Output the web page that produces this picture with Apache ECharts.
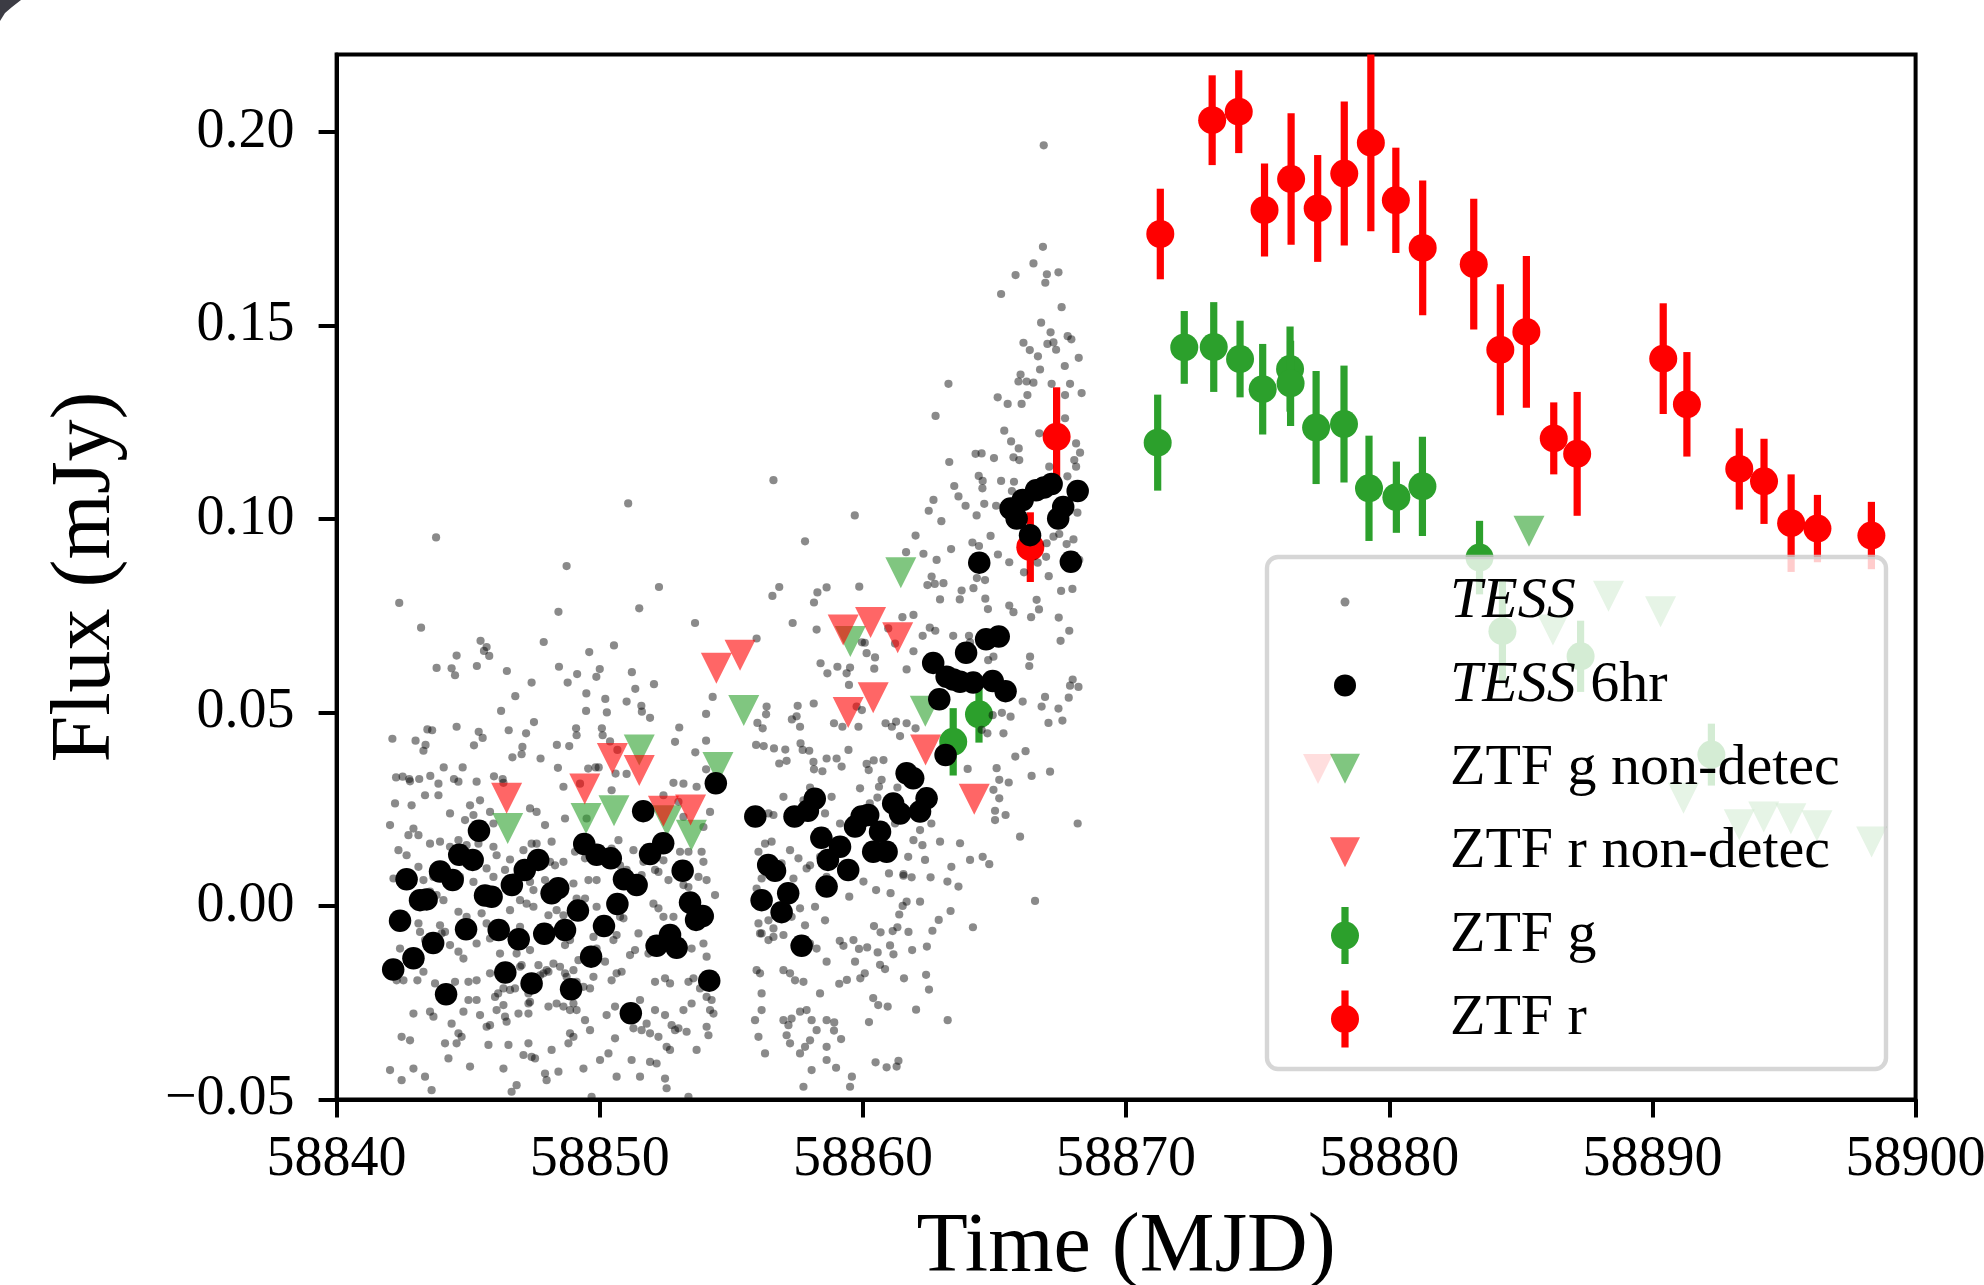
<!DOCTYPE html>
<html>
<head>
<meta charset="utf-8">
<script src="https://cdn.jsdelivr.net/npm/echarts@6/dist/echarts.min.js"></script>
<style>
html,body{margin:0;padding:0;background:#fff;}
#chart{width:1984px;height:1285px;}
</style>
</head>
<body>
<div id="chart"></div>
<script>
// ---------------- data ----------------
const xTickValues = [58840, 58850, 58860, 58870, 58880, 58890, 58900];
const yTickValues = [-0.05, 0.00, 0.05, 0.10, 0.15, 0.20];
const legendNames = ['TESS', 'TESS 6hr', 'ZTF g non-detec', 'ZTF r non-detec', 'ZTF g', 'ZTF r'];

// TESS raw photometry [MJD, flux mJy]
const tessPoints = [
[58842.79,0.0322],[58843.87,0.0316],[58844.63,0.0321],[58845.32,0.0321],[58846.34,0.0318],[58848.62,0.0308],[58849.25,0.0316],[58850.45,0.0299],[58852.42,0.0286],[58852.80,0.0318],[58853.18,0.0316],[58853.68,0.0308],[58854.44,0.0321],[58857.99,0.0306],[58856.98,0.0282],[58842.22,0.0265],[58842.85,0.026],[58843.36,0.0286],[58843.87,0.0286],[58845.07,0.026],[58845.45,0.0273],[58852.99,0.0269],
[58845.20,0.0235],[58844.31,0.0239],[58844.88,0.0222],[58845.83,0.0243],[58847.35,0.0252],[58847.60,0.0243],[58848.68,0.0226],[58854.19,0.0243],[58856.60,0.0235],[58857.36,0.0243],[58857.74,0.0273],[58842.03,0.0209],[58842.92,0.02],[58845.96,0.0213],[58847.92,0.0209],[58849.50,0.0226],[58856.41,0.0239],[58858.56,0.0239],[58853.94,0.0204],[58853.18,0.023],
[58842.35,0.0144],[58842.66,0.0131],[58843.11,0.0183],[58842.73,0.0183],[58843.55,0.0161],[58843.93,0.0166],[58844.31,0.0153],[58844.63,0.017],[58844.94,0.0157],[58845.07,0.0131],[58845.39,0.0161],[58845.96,0.0153],[58846.08,0.0131],[58846.59,0.012],[58847.10,0.0144],[58847.41,0.0161],[58847.60,0.0161],[58848.17,0.0166],[58848.11,0.0114],[58848.62,0.0114],[58849.06,0.014],[58849.44,0.0123],[58850.45,0.0148],[58850.71,0.017],[58851.28,0.0144],[58851.66,0.0114],[58852.42,0.0118],[58853.05,0.014],[58853.37,0.014],[58853.87,0.014],[58853.94,0.0114],[58856.28,0.0161],[58856.53,0.0166],[58857.23,0.0144],[58857.55,0.0123],[58857.86,0.0097],[58858.37,0.0127],[58858.75,0.0114],[58856.03,0.014],[58856.34,0.0118],
[58842.16,0.0071],[58842.54,0.0067],[58843.11,0.0101],[58843.30,0.0067],[58843.68,0.0075],[58844.44,0.008],[58844.69,0.0075],[58845.20,0.0062],[58845.70,0.0097],[58845.96,0.0075],[58846.40,0.0093],[58846.78,0.0075],[58847.35,0.0062],[58847.48,0.0041],[58847.92,0.0067],[58848.30,0.0105],[58849.00,0.0058],[58849.57,0.0067],[58849.88,0.0067],[58850.77,0.0105],[58851.02,0.0093],[58851.59,0.008],[58852.10,0.0093],[58852.23,0.0088],[58852.61,0.0067],[58853.18,0.0054],[58853.37,0.0049],[58853.75,0.0075],[58854.06,0.0067],[58854.38,0.0028],[58855.96,0.0045],[58856.15,0.0071],[58857.36,0.0071],[58856.91,0.011],[58857.99,0.0105],[58858.62,0.0075],
[58842.98,0.0015],[58843.55,0.0037],[58843.80,0.0028],[58844.06,0.0015],[58845.51,-0.0019],[58845.70,-0.0045],[58846.59,-0.0011],[58846.97,0.0015],[58847.22,0.0006],[58847.48,-0.0002],[58848.05,-0.0024],[58848.36,-0.0011],[58848.62,-0.0024],[58849.12,0.0019],[58849.44,0.0019],[58849.88,-0.0002],[58850.77,-0.0028],[58850.90,-0.0032],[58851.47,-0.0071],[58852.04,0.0006],[58852.23,-0.0006],[58852.42,-0.0028],[58852.80,-0.0028],[58853.43,-0.0015],[58853.94,-0.0011],[58854.19,-0.0028],[58856.03,-0.0045],[58856.09,-0.0071],[58856.41,-0.0037],[58856.60,-0.0058],[58857.29,-0.0028],[58857.61,-0.0006],[58858.18,-0.0002],[58858.56,-0.0037],[58857.80,-0.005],[58843.11,-0.0045],[58843.93,-0.005],[58844.12,-0.0067],[58844.63,-0.0015],[58844.94,-0.0028],[58845.32,-0.0097],[58846.08,-0.0062],[58846.97,-0.0054],
[58842.41,-0.011],[58843.17,-0.0067],[58843.36,-0.0088],[58843.99,-0.0071],[58844.31,-0.0101],[58844.63,-0.0118],[58844.82,-0.0136],[58845.83,-0.0084],[58846.21,-0.0123],[58846.84,-0.0123],[58846.97,-0.0157],[58847.35,-0.0114],[58847.67,-0.0153],[58847.86,-0.0174],[58848.05,-0.017],[58848.68,-0.0101],[58848.87,-0.0088],[58849.19,-0.014],[58849.76,-0.008],[58849.88,-0.011],[58850.20,-0.0144],[58850.52,-0.0088],[58850.64,-0.0075],[58851.15,-0.0127],[58851.34,-0.0114],[58851.85,-0.0123],[58852.10,-0.0106],[58852.54,-0.0101],[58853.18,-0.0106],[58853.49,-0.011],[58853.94,-0.0097],[58854.06,-0.0131],[58856.15,-0.0071],[58856.41,-0.0088],[58856.60,-0.008],[58856.98,-0.0075],[58857.99,-0.0097],[58858.24,-0.011],[58858.62,-0.0144],
[58842.28,-0.0192],[58842.54,-0.0192],[58843.07,-0.0192],[58843.30,-0.017],[58843.74,-0.02],[58844.12,-0.0226],[58844.50,-0.0196],[58845.01,-0.0196],[58845.32,-0.0192],[58845.83,-0.0174],[58846.02,-0.0235],[58846.14,-0.0226],[58846.34,-0.0213],[58846.59,-0.0217],[58846.78,-0.0213],[58847.03,-0.0153],[58847.29,-0.0226],[58847.35,-0.0248],[58847.73,-0.0179],[58847.98,-0.0166],[58848.24,-0.0149],[58848.49,-0.0157],[58848.68,-0.0174],[58848.74,-0.0183],[58849.00,-0.0166],[58849.12,-0.0196],[58849.38,-0.0209],[58849.63,-0.0213],[58849.76,-0.0183],[58850.45,-0.0192],[58850.64,-0.0174],[58850.83,-0.017],[58852.10,-0.0196],[58852.48,-0.0187],[58852.67,-0.02],[58853.37,-0.0196],[58853.56,-0.0187],[58853.81,-0.0213],[58854.06,-0.0235],[58854.25,-0.0243],[58855.96,-0.0166],[58856.09,-0.0174],[58856.98,-0.0166],[58857.23,-0.0174],[58857.42,-0.0192],[58857.74,-0.0196],[58858.37,-0.0226],
[58842.92,-0.0278],[58843.55,-0.0273],[58843.68,-0.0286],[58844.37,-0.0304],[58844.63,-0.0329],[58844.82,-0.0273],[58845.01,-0.0243],[58845.32,-0.0243],[58845.45,-0.0282],[58845.70,-0.0312],[58845.83,-0.0308],[58846.08,-0.0269],[58846.34,-0.0256],[58846.40,-0.0286],[58846.46,-0.0299],[58846.91,-0.0278],[58847.29,-0.0252],[58847.29,-0.0278],[58848.05,-0.026],[58848.36,-0.0252],[58848.62,-0.026],[58848.87,-0.0269],[58849.00,-0.0252],[58849.12,-0.0269],[58849.44,-0.0295],[58849.63,-0.0321],[58850.26,-0.0282],[58850.58,-0.026],[58851.28,-0.0316],[58851.53,-0.0243],[58851.59,-0.0321],[58851.78,-0.0304],[58851.91,-0.0329],[58852.10,-0.0269],[58852.23,-0.0338],[58852.48,-0.0282],[58852.73,-0.0308],[58852.86,-0.0321],[58852.99,-0.0316],[58853.18,-0.0269],[58853.30,-0.0325],[58853.49,-0.0252],[58854.06,-0.0312],[58854.13,-0.0334],[58854.19,-0.0269],[58854.32,-0.0278],[58855.90,-0.0295],[58856.15,-0.0269],[58856.98,-0.0295],[58857.17,-0.0308],[58857.29,-0.0291],[58857.61,-0.0273],[58857.86,-0.0269],[58858.05,-0.0295],[58858.24,-0.0321],[58858.62,-0.0295],[58856.15,-0.0226],
[58842.47,-0.0338],[58842.79,-0.0347],[58844.12,-0.0355],[58844.56,-0.0355],[58844.75,-0.0338],[58845.77,-0.0359],[58846.53,-0.0359],[58847.10,-0.0385],[58847.29,-0.0355],[58847.41,-0.039],[58847.54,-0.0394],[58848.17,-0.0372],[58848.81,-0.0355],[58848.87,-0.0329],[58849.00,-0.0338],[58850.01,-0.0398],[58850.33,-0.0381],[58850.58,-0.0342],[58851.21,-0.0398],[58851.91,-0.0403],[58852.16,-0.0407],[58852.48,-0.0446],[58852.54,-0.0364],[58852.67,-0.0372],[58853.68,-0.0372],[58856.03,-0.0338],[58857.10,-0.0334],[58857.23,-0.0355],[58857.61,-0.0381],[58857.80,-0.0364],[58857.99,-0.0347],[58858.62,-0.0364],
[58842.03,-0.0424],[58842.47,-0.045],[58842.92,-0.042],[58843.36,-0.0441],[58843.61,-0.0476],[58844.25,-0.0394],[58845.07,-0.0415],[58846.34,-0.042],[58846.65,-0.048],[58846.84,-0.0463],[58847.92,-0.0433],[58847.98,-0.045],[58848.43,-0.0428],[58849.38,-0.042],[58849.69,-0.0493],[58850.64,-0.0441],[58851.53,-0.0441],[58852.54,-0.0471],[58853.37,-0.0493],[58856.28,-0.0381],[58857.74,-0.0467],[58858.05,-0.0424],[58858.62,-0.0398],
[58856.60,0.1100],[58851.08,0.1040],[58843.78,0.0952],[58848.74,0.0878],[58857.80,0.0942],[58842.38,0.0783],[58843.21,0.0719],[58848.43,0.076],[58851.50,0.0769],[58852.25,0.0824],[58853.62,0.0731],[58856.82,0.0824],[58856.56,0.0801],[58858.27,0.081],[58858.14,0.0784],[58858.62,0.0823],[58857.33,0.0731],[58858.24,0.0714],[58855.96,0.0691],[58847.87,0.0682],[58845.47,0.0685],[58845.70,0.0669],[58845.60,0.0659],[58845.80,0.0646],[58844.56,0.0647],[58843.80,0.0615],[58844.37,0.0614],[58844.50,0.0596],[58845.33,0.062],[58846.47,0.0607],[58847.41,0.0577],[58846.79,0.0542],[58846.25,0.0504],[58848.45,0.0618],[58848.78,0.0577],[58849.14,0.0599],[58849.60,0.0656],[58850.00,0.0612],[58849.87,0.0592],[58850.54,0.0673],[58851.22,0.0604],[58851.35,0.0561],[58852.06,0.0573],[58850.21,0.0535],[58849.49,0.0549],[58849.48,0.0504],[58850.27,0.05],[58851.02,0.0528],[58851.58,0.0517],[58851.60,0.0502],[58851.91,0.0486],[58854.04,0.0496],[58854.29,0.054],[58853.02,0.0461],[58852.86,0.0424],[58853.63,0.0397],[58856.34,0.0515],[58856.32,0.0495],[58855.99,0.0473],[58856.19,0.0459],[58857.52,0.0517],[58857.48,0.049],[58857.30,0.0482],[58857.61,0.0463],[58858.13,0.0523],[58858.39,0.0627],[58858.65,0.0601],[58855.94,0.0416],[58856.23,0.0413],[58856.62,0.0407],[58857.05,0.0404],[58857.63,0.042],[58857.71,0.0403],[58857.96,0.0401],[58858.12,0.0372],[58858.62,0.0381],[58856.82,0.0368],[58857.10,0.0375],[58858.14,0.0353],[58858.46,0.0348],
[58842.12,0.0432],[58843.00,0.0427],[58843.38,0.0416],[58843.30,0.0401],[58843.45,0.0456],[58843.63,0.0454],[58844.56,0.0463],[58845.40,0.045],[58845.55,0.0434],[58845.22,0.0415],[58846.54,0.0454],[58847.20,0.0446],[58847.50,0.0475],[58847.06,0.0411],[58847.03,0.0392],[58846.68,0.0384],[58847.75,0.0381],[58848.37,0.0416],[58848.84,0.0413],[58849.10,0.0459],[58849.12,0.0441],[58850.08,0.0459],[58850.11,0.0441],[58850.39,0.0425],[58850.67,0.0403],[58850.60,0.0342],[58851.02,0.0341],[58854.04,0.0427],[58842.26,0.0332],[58842.51,0.0334],[58842.76,0.0328],[58843.14,0.0328],[58843.56,0.0336],[58844.07,0.0358],[58844.46,0.0328],[58844.79,0.0358],[58845.98,0.0335],[58846.31,0.0328],[58848.41,0.0357],[58849.56,0.0355],[58849.84,0.0358],[58849.96,0.0358],[58854.04,0.0353],
[58863.25,0.1349],[58865.91,0.1355],[58866.22,0.1355],[58866.48,0.1352],[58867.17,0.1349],[58867.87,0.1349],[58868.31,0.1325],[58867.68,0.132],[58866.25,0.132],[58866.03,0.1297],[58865.50,0.1297],[58865.12,0.1314],[58862.76,0.1266],[58866.70,0.1221],[58865.37,0.1228],[58865.63,0.12],[58865.92,0.1182],[58865.72,0.1159],[58865.94,0.1152],[58864.98,0.1157],[58864.28,0.1168],[58864.51,0.1169],[58868.10,0.1195],[58868.25,0.1171],[58868.03,0.1152],[58868.10,0.1135],[58867.08,0.1135],[58867.77,0.111],[58867.68,0.126],[58863.28,0.1147],[58863.63,0.1058],[58863.47,0.1085],[58864.40,0.1111],[58864.55,0.1098],[58864.54,0.1079],[58865.25,0.1098],[58865.74,0.1096],[58865.66,0.1072],[58868.15,0.1016],[58863.90,0.1034],[58864.61,0.1039],[58865.06,0.1034],[58864.32,0.1009],[58862.68,0.1049],[58862.50,0.1021],[58862.98,0.0994],[58859.69,0.1009],
[58862.00,0.0957],[58862.30,0.091],[58861.64,0.0914],[58862.80,0.0894],[58863.35,0.0922],[58864.16,0.0939],[58864.41,0.093],[58864.85,0.0956],[58865.13,0.0908],[58865.56,0.0888],[58866.64,0.0887],[58866.96,0.0902],[58867.24,0.0954],[58867.46,0.0961],[58867.74,0.0935],[58868.00,0.0947],[58868.22,0.0894],[58866.98,0.0937],[58866.12,0.0862],[58867.06,0.0852],[58867.53,0.0814],[58867.96,0.0819],[58866.60,0.0791],[58866.69,0.0766],[58866.39,0.0746],[58867.44,0.0745],[58867.84,0.0711],[58867.51,0.0685],[58865.56,0.0776],[58865.72,0.0759],[58864.75,0.0767],[58864.65,0.0794],[58864.20,0.0821],[58864.33,0.0847],[58864.64,0.0842],[58863.75,0.0815],[58862.93,0.0792],[58863.68,0.0792],[58862.61,0.0851],[58862.45,0.0829],[58862.73,0.0832],[58863.06,0.0834],[58861.92,0.0752],[58862.27,0.0698],[58862.54,0.0719],[58862.75,0.0711],[58861.50,0.0746],[58861.66,0.0611],[58861.92,0.0658],[58863.43,0.0698],[58864.03,0.0698],[58864.07,0.0681],[58864.76,0.0635],[58864.96,0.0644],[58866.35,0.0644],[58866.32,0.062],
[58867.97,0.0585],[58868.19,0.0566],[58867.87,0.0569],[58867.82,0.0538],[58866.92,0.054],[58866.79,0.0515],[58867.43,0.051],[58867.58,0.0479],[58867.05,0.0473],[58866.18,0.04],[58865.79,0.0386],[58866.41,0.0336],[58867.11,0.0347],[58865.97,0.0179],[58868.16,0.0213],[58865.61,0.0489],[58865.28,0.0499],[58865.34,0.0446],[58866.07,0.0528],[58864.93,0.0493],[58864.73,0.0446],[58864.51,0.0455],[58863.98,0.0354],[58865.08,0.0356],[58865.18,0.0326],[58865.54,0.0319],[58864.96,0.03],[58865.18,0.0278],[58865.42,0.0235],[58865.02,0.0222],[58865.02,0.0246],[58864.07,0.0119],[58864.55,0.0127],[58864.80,0.0108],[58863.69,0.0162],[58863.36,0.0101],[58862.93,0.0166],[58862.60,0.0213],[58862.17,0.0196],[58862.26,0.0157],[58862.36,0.0119],[58861.92,0.017],[58861.72,0.0127],[58861.54,0.0082],[58860.99,0.0084],[58861.22,0.0248],[58860.71,0.0326],[58861.31,0.0306],[58860.78,0.0377],[58860.41,0.0376],[58860.14,0.0367],[58860.22,0.0351],[58860.61,0.0308],[58859.89,0.0304],[58860.26,0.0265],[58860.55,0.028],[58858.81,0.0282],[58859.19,0.036],[58859.45,0.0403],[58859.00,0.0381],
[58859.83,0.0463],[58859.22,0.0463],[58858.90,0.0472],[58859.38,0.0601],[58859.03,0.0618],[58859.47,0.0571],[58859.51,0.0616],[58859.96,0.0681],[58860.07,0.068],[58860.43,0.0613],[58860.14,0.0653],[58860.46,0.0642],[58860.96,0.0717],[58861.22,0.0678],[58859.76,0.0515],[58859.96,0.0506],[58859.86,0.0825],[58861.26,0.0476],[58860.86,0.0472],[58861.10,0.0463],[58861.41,0.0439],[58861.66,0.0472],[58862.00,0.0459],[58861.22,0.0213],[58859.26,0.0166],[58859.13,0.0213],
[58860.02,0.0063],[58860.50,0.0041],[58861.05,0.0033],[58861.54,0.0078],[58861.85,0.0074],[58862.57,0.0074],[58863.21,0.0063],[58863.63,0.005],[58866.54,0.0013],[58859.48,0.0024],[58861.66,0.0011],[58861.51,0.0000],[58862.17,0.0011],[58861.38,-0.0022],[58863.33,-0.0013],[58862.88,-0.0036],[58862.64,-0.0064],[58864.18,-0.0055],[58860.42,-0.0052],[58860.67,-0.0068],[58861.13,-0.0065],[58861.31,-0.0055],[58861.73,-0.0067],[58859.12,-0.009],[58859.26,-0.0103],[58859.64,-0.0088],[58859.85,-0.0111],[58860.16,-0.0107],[58860.56,-0.012],[58861.03,-0.0102],[58861.16,-0.0125],[58861.87,-0.0114],[58862.43,-0.0105],[58859.70,-0.0144],[58860.65,-0.0152],[58860.84,-0.0163],[58860.07,-0.0174],[58859.90,-0.0187],[58859.39,-0.0191],[58859.10,-0.0201],[58861.56,-0.0187],[58862.40,-0.0178],[58862.51,-0.0216],[58860.39,-0.0238],[58860.58,-0.0256],[58860.94,-0.026],[58862.02,-0.0268],[58863.22,-0.0295],[58860.23,-0.03],[58858.91,-0.0301],[58858.90,-0.0322],[58859.17,-0.0344],[58858.98,-0.0418],[58859.58,-0.0441],[58859.51,-0.0467],[58860.48,-0.0404],[58860.90,-0.0417],[58861.28,-0.0415],[58861.35,-0.04],
[58866.87,0.1965],[58866.84,0.1703],[58866.48,0.166],[58865.80,0.163],[58866.99,0.1632],[58867.43,0.1637],[58866.93,0.161],[58865.25,0.1581],[58867.55,0.1547],[58866.77,0.1507],[58867.13,0.1482],[58867.78,0.1472],[58867.92,0.1464],[58866.10,0.1455],[58867.01,0.1452],[58867.24,0.1456],[58866.34,0.1436],[58867.34,0.1437],[58866.65,0.142],[58868.20,0.1416],[58867.67,0.1395],[58866.73,0.1386],[58865.99,0.1373]
];

// TESS 6-hour binned [MJD, flux]
const tess6hrPoints = [
[58842.15,-0.0164],[58842.41,-0.0038],[58842.66,0.0069],[58842.92,-0.0135],[58843.17,0.0015],[58843.42,0.0017],[58843.67,-0.0096],[58843.93,0.0089],[58844.16,-0.0228],[58844.41,0.0067],[58844.66,0.0132],[58844.92,-0.006],[58845.17,0.0119],[58845.41,0.0194],[58845.64,0.0027],[58845.89,0.0024],[58846.16,-0.0062],[58846.41,-0.0172],[58846.66,0.0054],[58846.92,-0.0086],[58847.15,0.0093],[58847.41,-0.02],[58847.66,0.0119],[58847.89,-0.0072],[58848.17,0.0033],[58848.42,0.0046],[58848.68,-0.0062],[58848.91,-0.0215],[58849.17,-0.0012],[58849.41,0.016],[58849.67,-0.0131],[58849.88,0.0132],[58850.16,-0.0052],[58850.42,0.0123],[58850.67,0.0005],[58850.92,0.0069],[58851.18,-0.0277],[58851.40,0.0054],[58851.65,0.0245],[58851.91,0.0134],[58852.16,-0.0103],[58852.41,0.0162],[58852.67,-0.0075],[58852.92,-0.0108],[58853.15,0.0091],[58853.43,0.0009],[58853.66,-0.0036],[58853.91,-0.0026],[58854.16,-0.0193],[58854.41,0.0317],
[58855.91,0.0231],[58856.15,0.0015],[58856.40,0.0106],[58856.66,0.0091],[58856.91,-0.0016],[58857.16,0.0033],[58857.40,0.0231],[58857.67,-0.0103],[58857.91,0.0246],[58858.17,0.0277],[58858.42,0.0176],[58858.67,0.0119],[58858.62,0.005],[58859.13,0.0153],[58859.44,0.0093],[58859.70,0.0205],[58859.95,0.0231],[58860.20,0.0235],[58860.39,0.014],[58860.65,0.0192],[58860.90,0.014],[58861.15,0.0265],[58861.41,0.0239],[58861.66,0.0343],[58861.91,0.033],[58862.17,0.0244],[58862.42,0.0278],[58862.67,0.0628],[58862.90,0.0534],[58863.14,0.039],[58863.18,0.0592],[58863.43,0.0585],[58863.69,0.0579],[58863.92,0.0654],[58864.19,0.0577],[58864.42,0.0887],[58864.68,0.0689],[58864.93,0.0581],[58865.16,0.0696],[58865.42,0.0555],[58865.61,0.1027],[58865.84,0.1001],[58866.07,0.1049],[58866.35,0.0958],[58866.58,0.1074],[58866.88,0.1081],[58867.17,0.109],[58867.42,0.1001],[58867.61,0.1031],[58867.90,0.0889],[58868.16,0.1072]
];

// ZTF upper limits [MJD, flux]
const ztfGNondet = [
[58846.50,0.0200],[58849.48,0.0226],[58850.54,0.0246],[58851.50,0.0403],[58852.55,0.0220],[58853.48,0.0183],[58854.49,0.0358],[58855.47,0.0505],[58859.52,0.0683],[58861.44,0.0861],[58862.37,0.0503],[58885.31,0.0968],[58886.22,0.0713],[58888.33,0.0800],[58890.31,0.0760],[58891.18,0.0278],[58893.30,0.0210],[58894.23,0.0230],[58895.26,0.0225],[58896.25,0.0207],[58898.33,0.0165]
];
const ztfRNondet = [
[58846.46,0.0278],[58849.43,0.0302],[58850.48,0.0381],[58851.50,0.0350],[58852.42,0.0245],[58853.45,0.0248],[58854.43,0.0614],[58855.33,0.0648],[58859.25,0.0713],[58860.29,0.0732],[58861.32,0.0693],[58860.39,0.0538],[58859.44,0.0500],[58862.38,0.0403],[58864.23,0.0276]
];

// ZTF detections [MJD, flux, 1-sigma error]
const ztfG = [
[58863.43,0.0424,0.0087],[58864.41,0.0495,0.0073],[58871.20,0.1197,0.0124],[58872.21,0.1443,0.0094],[58873.33,0.1444,0.0116],[58874.33,0.1413,0.0099],[58875.19,0.1335,0.0117],[58876.23,0.1387,0.0110],[58876.25,0.1350,0.0110],[58877.22,0.1236,0.0146],[58878.28,0.1245,0.0151],[58879.23,0.1079,0.0136],[58880.27,0.1056,0.0092],[58881.26,0.1084,0.0128],[58883.43,0.0900,0.0095],[58884.30,0.0710,0.0135],[58887.27,0.0645,0.0092],[58892.24,0.0391,0.0080]
];
const ztfR = [
[58866.36,0.0927,0.0090],[58867.36,0.1212,0.0128],[58871.30,0.1736,0.0117],[58873.27,0.2030,0.0116],[58874.28,0.2052,0.0107],[58875.26,0.1798,0.0120],[58876.27,0.1878,0.0170],[58877.28,0.1802,0.0138],[58878.29,0.1892,0.0186],[58879.30,0.1972,0.0229],[58880.25,0.1823,0.0136],[58881.27,0.1700,0.0174],[58883.21,0.1658,0.0169],[58884.22,0.1437,0.0169],[58885.21,0.1483,0.0196],[58886.25,0.1208,0.0093],[58887.14,0.1168,0.0160],[58890.41,0.1414,0.0143],[58891.31,0.1296,0.0135],[58893.30,0.1129,0.0105],[58894.24,0.1097,0.0110],[58895.27,0.0989,0.0126],[58896.27,0.0975,0.0087],[58898.32,0.0957,0.0087]
];

// ---------------- chart ----------------
const X_MIN = 58840, X_MAX = 58900, Y_MIN = -0.05, Y_MAX = 0.22;
const FONT = "'Liberation Serif', 'Times New Roman', serif";
const GREEN = '#2ca02c', RED = '#ff0000';

function errorBarRenderer(color) {
  return function (params, api) {
    const x = api.value(0), y = api.value(1), e = api.value(2);
    const c = api.coord([x, y]);
    const t = api.coord([x, Math.min(y + e, Y_MAX)]);
    const b = api.coord([x, Math.max(y - e, Y_MIN)]);
    return {
      type: 'group',
      children: [
        { type: 'rect', shape: { x: c[0] - 3.6, y: t[1], width: 7.2, height: b[1] - t[1] }, style: { fill: color } },
        { type: 'circle', shape: { cx: c[0], cy: c[1], r: 14 }, style: { fill: color } }
      ]
    };
  };
}

const BOX = 'M0,0M100,60';
const icons = {
  'TESS': 'path://' + BOX + 'M45.5,30A4.5,4.5,0,1,1,54.5,30A4.5,4.5,0,1,1,45.5,30Z',
  'TESS 6hr': 'path://' + BOX + 'M39,30A11,11,0,1,1,61,30A11,11,0,1,1,39,30Z',
  'ZTF g non-detec': 'path://' + BOX + 'M35,15L65,15L50,45Z',
  'ZTF r non-detec': 'path://' + BOX + 'M35,15L65,15L50,45Z',
  'ZTF g': 'path://' + BOX + 'M46.4,1.5L53.6,1.5L53.6,58.5L46.4,58.5Z M36,30A14,14,0,1,1,64,30A14,14,0,1,1,36,30Z',
  'ZTF r': 'path://' + BOX + 'M46.4,1.5L53.6,1.5L53.6,58.5L46.4,58.5Z M36,30A14,14,0,1,1,64,30A14,14,0,1,1,36,30Z'
};

const chart = echarts.init(document.getElementById('chart'), null, { renderer: 'canvas' });

const axisFont = { fontFamily: FONT, fontSize: 56, color: '#000' };

chart.setOption({
  animation: false,
  backgroundColor: '#fff',
  grid: { left: 336.6, right: 68.4, top: 54.4, bottom: 185.5, containLabel: false, outerBoundsMode: 'none',
          show: true, borderColor: '#000', borderWidth: 4, backgroundColor: 'transparent' },
  xAxis: {
    type: 'value', min: X_MIN, max: X_MAX, interval: 10,
    name: 'Time (MJD)', nameLocation: 'middle', nameGap: 107,
    nameTextStyle: { fontFamily: FONT, fontSize: 84, color: '#000' },
    axisLine: { show: true, onZero: false, lineStyle: { color: '#000', width: 4 } },
    axisTick: { show: true, inside: false, length: 18, lineStyle: { color: '#000', width: 4 } },
    axisLabel: Object.assign({ margin: 33, formatter: v => String(v) }, axisFont),
    splitLine: { show: false }
  },
  yAxis: {
    type: 'value', min: Y_MIN, max: Y_MAX, interval: 0.05,
    name: 'Flux (mJy)', nameLocation: 'middle', nameGap: 208, nameRotate: 90,
    nameTextStyle: { fontFamily: FONT, fontSize: 84, color: '#000' },
    axisLine: { show: true, onZero: false, lineStyle: { color: '#000', width: 4 } },
    axisTick: { show: true, inside: false, length: 18, lineStyle: { color: '#000', width: 4 }, customValues: yTickValues },
    axisLabel: Object.assign({
      margin: 42, customValues: yTickValues,
      formatter: v => (v < -1e-9 ? '\u2212' : '') + Math.abs(v).toFixed(2)
    }, axisFont),
    splitLine: { show: false }
  },
  legend: {
    orient: 'vertical', left: 1295, top: 572, padding: 0, z: 30,
    itemWidth: 100, itemHeight: 60, itemGap: 23.4,
    selectedMode: false,
    data: legendNames.map(n => ({ name: n, icon: icons[n] })),
    formatter: function (name) {
      if (name.indexOf('TESS') === 0) {
        const rest = name.slice(4);
        return '{pad| }{it|TESS}' + (rest ? '{n|' + rest + '}' : '');
      }
      return '{pad| }{n|' + name + '}';
    },
    textStyle: {
      fontFamily: FONT, fontSize: 58, color: '#000', lineHeight: 60,
      rich: {
        pad: { width: 50, lineHeight: 60 },
        it: { fontFamily: FONT, fontSize: 58, fontStyle: 'italic', color: '#000', lineHeight: 60 },
        n: { fontFamily: FONT, fontSize: 58, color: '#000', lineHeight: 60 }
      }
    }
  },
  graphic: [
    { type: 'rect', z: 20, silent: true,
      shape: { x: 1267, y: 557, width: 619, height: 512, r: 11 },
      style: { fill: 'rgba(255,255,255,0.8)', stroke: 'rgba(204,204,204,0.8)', lineWidth: 4.4 } },
    { type: 'polygon', z: 25, silent: true,
      shape: { points: [[1303, 754], [1333, 754], [1318, 784]] },
      style: { fill: 'rgba(255,0,0,0.13)' } },
    { type: 'polygon', z: 50, silent: true,
      shape: { points: [[0, 0], [21, 0], [12, 7], [5, 13], [0, 21]] },
      style: { fill: '#3c3c44' } }
  ],
  series: [
    { name: 'TESS', type: 'scatter', data: tessPoints, symbol: 'circle', symbolSize: 8.2,
      itemStyle: { color: 'rgba(0,0,0,0.46)', opacity: 1 }, silent: true, z: 2 },
    { name: 'ZTF g non-detec', type: 'scatter', data: ztfGNondet, symbol: 'triangle', symbolRotate: 180, symbolSize: 31,
      itemStyle: { color: 'rgba(44,160,44,0.6)', opacity: 1 }, silent: true, z: 2 },
    { name: 'ZTF r non-detec', type: 'scatter', data: ztfRNondet, symbol: 'triangle', symbolRotate: 180, symbolSize: 31,
      itemStyle: { color: 'rgba(255,0,0,0.6)', opacity: 1 }, silent: true, z: 2 },
    { name: 'TESS 6hr', type: 'scatter', data: tess6hrPoints, symbol: 'circle', symbolSize: 22.5,
      itemStyle: { color: '#000', opacity: 1 }, silent: true, z: 2 },
    { name: 'ZTF g', type: 'custom', data: ztfG, encode: { x: 0, y: 1 },
      renderItem: errorBarRenderer(GREEN), itemStyle: { color: GREEN, opacity: 1 }, silent: true, z: 2 },
    { name: 'ZTF r', type: 'custom', data: ztfR, encode: { x: 0, y: 1 },
      renderItem: errorBarRenderer(RED), itemStyle: { color: RED, opacity: 1 }, silent: true, z: 2 }
  ]
});
</script>
</body>
</html>
